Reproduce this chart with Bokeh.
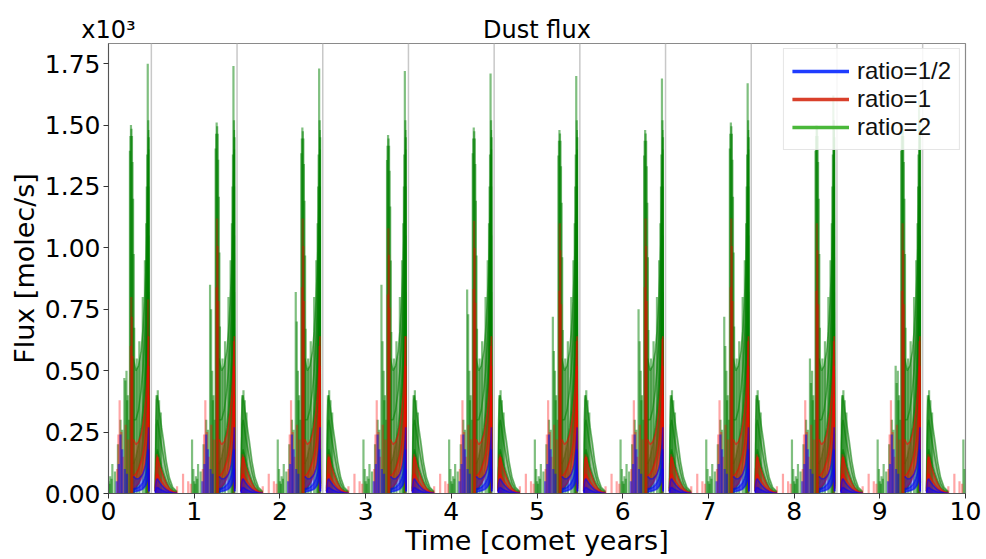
from bokeh.plotting import figure
from bokeh.models import (Range1d, FixedTicker, PrintfTickFormatter, Span, LinearAxis,
                          Legend, LegendItem)
from bokeh.embed import file_html
from bokeh.resources import INLINE

# ---------------- data (flux in units of 10^3 molec/s) ----------------
cycle_start = [0, 1, 2, 3, 4, 5, 6, 7, 8, 9]          # start of each comet year
perihelion = [0.5, 1.5, 2.5, 3.5, 4.5, 5.5, 6.5, 7.5, 8.5, 9.5]
x_ticks = [0, 1, 2, 3, 4, 5, 6, 7, 8, 9, 10]
y_ticks = [0.0, 0.25, 0.5, 0.75, 1.0, 1.25, 1.5, 1.75]

# per-cycle peak heights
green_pair_peak = [1.50, 1.51, 1.49, 1.46, 1.49, 1.48, 1.48, 1.51, 1.50, 1.50]
green_final_peak = [1.75, 1.74, 1.73, 1.72, 1.71, 1.70, 1.69, 1.67, 1.62, 1.60]
green_pre_peak = [0.47, 0.85, 0.82, 0.85, 0.83, 0.72, 0.75, 0.72, 0.55, 0.52]
green_pre_peak2 = [0.46, 0.75, 0.70, 0.62, 0.73, 0.58, 0.62, 0.60, 0.45, 0.45]
red_pair_peak = [0.80, 1.12, 1.12, 1.08, 1.11, 1.10, 1.12, 1.12, 1.10, 1.10]
red_final_peak = [0.79, 0.62, 0.60, 0.64, 0.60, 0.62, 0.63, 0.62, 0.62, 0.62]

# twin spike shape (phase, relative height)
pair_phase = [0.250, 0.256, 0.262, 0.268, 0.274, 0.280, 0.287, 0.294, 0.300]
pair_rel = [0.93, 0.97, 1.00, 0.99, 0.97, 0.90, 0.80, 0.65, 0.45]
red_pair_phase = [0.258, 0.266, 0.274, 0.282]
red_pair_rel = [0.75, 1.00, 0.90, 0.70]

# rising branch before perihelion (several runs)
rise_phase = [0.290, 0.320, 0.350, 0.380, 0.400, 0.420, 0.435, 0.445, 0.455, 0.462, 0.468, 0.472]
green_rise = [
    [0.55, 0.50, 0.52, 0.58, 0.66, 0.78, 0.90, 1.02, 1.18, 1.32, 1.48, 0.04],
    [0.30, 0.30, 0.34, 0.42, 0.50, 0.61, 0.72, 0.84, 1.00, 1.16, 1.40, 0.04],
    [0.12, 0.15, 0.20, 0.27, 0.34, 0.44, 0.55, 0.66, 0.80, 0.98, 1.25, 0.03],
    [0.04, 0.06, 0.10, 0.15, 0.21, 0.29, 0.38, 0.48, 0.62, 0.80, 1.05, 0.03],
    [0.01, 0.02, 0.04, 0.07, 0.11, 0.16, 0.23, 0.31, 0.42, 0.58, 0.82, 0.02],
]
red_rise = [
    [0.22, 0.20, 0.21, 0.24, 0.28, 0.33, 0.39, 0.44, 0.51, 0.57, 0.64, 0.02],
    [0.07, 0.08, 0.10, 0.13, 0.16, 0.20, 0.25, 0.30, 0.36, 0.43, 0.52, 0.02],
    [0.02, 0.03, 0.04, 0.06, 0.08, 0.11, 0.15, 0.19, 0.24, 0.31, 0.40, 0.01],
]
blue_rise = [
    [0.07, 0.06, 0.06, 0.07, 0.08, 0.10, 0.12, 0.15, 0.18, 0.22, 0.27, 0.01],
    [0.02, 0.02, 0.025, 0.035, 0.045, 0.06, 0.075, 0.09, 0.11, 0.14, 0.18, 0.01],
    [0.005, 0.008, 0.010, 0.014, 0.018, 0.025, 0.033, 0.042, 0.055, 0.075, 0.10, 0.005],
]

# decaying branch after perihelion
tail_phase = [0.545, 0.552, 0.560, 0.570, 0.585, 0.600, 0.620, 0.645, 0.675, 0.710, 0.750, 0.800]
green_tail = [
    [0.02, 0.30, 0.38, 0.40, 0.36, 0.32, 0.27, 0.21, 0.13, 0.065, 0.025, 0.008],
    [0.01, 0.20, 0.28, 0.30, 0.27, 0.23, 0.19, 0.14, 0.085, 0.04, 0.015, 0.005],
    [0.01, 0.10, 0.16, 0.18, 0.16, 0.14, 0.11, 0.08, 0.05, 0.025, 0.01, 0.003],
]
red_tail = [
    [0.01, 0.10, 0.14, 0.15, 0.13, 0.11, 0.09, 0.065, 0.04, 0.02, 0.008, 0.002],
    [0.005, 0.05, 0.07, 0.08, 0.07, 0.06, 0.048, 0.035, 0.022, 0.011, 0.005, 0.001],
]
blue_tail = [
    [0.005, 0.04, 0.055, 0.06, 0.052, 0.044, 0.035, 0.025, 0.015, 0.008, 0.003, 0.001],
    [0.002, 0.015, 0.022, 0.025, 0.022, 0.018, 0.014, 0.010, 0.006, 0.003, 0.001, 0.0],
]

# isolated outbursts (phase, height) repeated each comet year
green_spike_phase = [0.000, 0.012, 0.020, 0.035, 0.045, 0.075, 0.110, 0.140, 0.160,
                     0.210, 0.218, 0.225, 0.240, 0.330, 0.360, 0.400, 0.425,
                     0.560, 0.575, 0.590, 0.610, 0.975, 0.990]
green_spike_height = [0.05, 0.04, 0.07, 0.06, 0.12, 0.09, 0.20, 0.30, 0.26,
                      0.50, 0.38, 0.40, 0.30, 0.55, 0.62, 0.80, 0.95,
                      0.40, 0.42, 0.38, 0.33, 0.22, 0.10]
red_spike_phase = [0.100, 0.115, 0.130, 0.150, 0.170, 0.200, 0.230, 0.565, 0.580,
                   0.800, 0.870, 0.930, 0.960]
red_spike_height = [0.10, 0.24, 0.38, 0.25, 0.15, 0.28, 0.22, 0.16, 0.15,
                    0.03, 0.08, 0.05, 0.04]
blue_spike_phase = [0.095, 0.120, 0.140, 0.160, 0.190, 0.215]
blue_spike_height = [0.05, 0.12, 0.24, 0.18, 0.10, 0.08]

# header texts: the offset note above the y axis and the title
header_pos = [0, 5]
header_text = ["x10³", "Dust flux"]

GREEN, RED, BLUE = "#008000", "#ff0000", "#0000ff"
FONT = "DejaVu Sans"
FONT2 = "Liberation Sans"

p = figure(width=986, height=559, x_range=Range1d(0, 10), y_range=Range1d(0, 1.832),
           output_backend="svg", toolbar_location=None, title=None,
           min_border_left=108, min_border_right=21, min_border_top=43, min_border_bottom=66)
p.xgrid.visible = False
p.ygrid.visible = False
p.outline_line_color = "#8a8a8a"
p.outline_line_width = 1.2

for loc in perihelion:
    p.add_layout(Span(location=loc, dimension="height", line_color="#c8c8c8",
                      line_width=1.5, level="underlay"))


def draw_series(color, dense, rise, tail, sp_phase, sp_height, extra, core_alpha,
                fringe_alpha, spike_alpha):
    for lo_i, hi_i, alpha in ((len(rise) - 1, len(rise) // 2, core_alpha),
                              (len(rise) // 2, 0, fringe_alpha)):
        xs_f, ys_f = [], []
        for c in cycle_start:
            xx = [c + q for q in rise_phase]
            xs_f.append(xx + xx[::-1])
            ys_f.append(list(rise[lo_i]) + list(rise[hi_i])[::-1])
        p.patches(xs_f, ys_f, fill_color=dense, fill_alpha=alpha, line_color=None)
    xs_f, ys_f = [], []
    for c in cycle_start:
        xx = [c + q for q in tail_phase]
        xs_f.append(xx + xx[::-1])
        ys_f.append([0.0] * len(xx) + list(tail[-1])[::-1])
    p.patches(xs_f, ys_f, fill_color=dense, fill_alpha=core_alpha, line_color=None)
    xs_f, ys_f = [], []
    for c in cycle_start:
        xx = [c + q for q in tail_phase]
        xs_f.append(xx + xx[::-1])
        ys_f.append(list(tail[-1]) + list(tail[0])[::-1])
    p.patches(xs_f, ys_f, fill_color=dense, fill_alpha=fringe_alpha, line_color=None)
    xs_l, ys_l = [], []
    for c in cycle_start:
        for ph, runs in ((rise_phase, rise), (tail_phase, tail)):
            for r in runs:
                xs_l.append([c + q for q in ph])
                ys_l.append(list(r))
    p.multi_line(xs_l, ys_l, line_color=color, line_alpha=0.55, line_width=1.6)
    x0, y1 = [], []
    for c in cycle_start:
        for q, h in zip(sp_phase, sp_height):
            x0.append(c + q)
            y1.append(h)
    x0 += extra[0]
    y1 += extra[1]
    p.segment(x0=x0, y0=[0] * len(x0), x1=x0, y1=y1, line_color=color,
              line_alpha=spike_alpha, line_width=2.2)


g_extra_x, g_extra_h = [], []
r_extra_x, r_extra_h = [], []
for i, c in enumerate(cycle_start):
    for q, rel in zip(pair_phase, pair_rel):
        g_extra_x.append(c + q)
        g_extra_h.append(green_pair_peak[i] * rel)
    g_extra_x += [c + 0.185, c + 0.197, c + 0.440, c + 0.447, c + 0.452, c + 0.458, c + 0.464, c + 0.470]
    g_extra_h += [green_pre_peak[i], green_pre_peak2[i], 1.10, 1.25, 1.38, green_final_peak[i], 1.52, 1.45]
    for q, rel in zip(red_pair_phase, red_pair_rel):
        r_extra_x.append(c + q)
        r_extra_h.append(red_pair_peak[i] * rel)
    r_extra_x += [c + 0.462]
    r_extra_h += [red_final_peak[i]]

draw_series(GREEN, "#2a7a1e", green_rise, green_tail, green_spike_phase, green_spike_height,
            (g_extra_x, g_extra_h), 0.8, 0.45, 0.5)
draw_series(RED, "#ff1a1a", red_rise, red_tail, red_spike_phase, red_spike_height,
            (r_extra_x, r_extra_h), 0.55, 0.35, 0.35)
draw_series(BLUE, "#0a0aff", blue_rise, blue_tail, blue_spike_phase, blue_spike_height,
            ([], []), 0.7, 0.4, 0.5)

# axes
p.xaxis.ticker = FixedTicker(ticks=x_ticks, minor_ticks=[])
p.yaxis.ticker = FixedTicker(ticks=y_ticks, minor_ticks=[])
p.xaxis.formatter = PrintfTickFormatter(format="%d")
p.yaxis.formatter = PrintfTickFormatter(format="%.2f")
for ax in (p.xaxis, p.yaxis):
    ax.axis_line_color = "#555555"
    ax.major_tick_line_color = "#333333"
    ax.major_tick_out = 5
    ax.major_tick_in = 0
    ax.major_label_text_font = FONT
    ax.major_label_text_font_size = "25px"
    ax.major_label_text_color = "black"
    ax.major_label_standoff = 3
    ax.axis_label_text_font = FONT
    ax.axis_label_text_font_size = "27px"
    ax.axis_label_text_font_style = "normal"
    ax.axis_label_text_color = "black"
p.xaxis.axis_label = "Time [comet years]"
p.yaxis.axis_label = "Flux [molec/s]"
p.xaxis.axis_label_standoff = 2
p.yaxis.axis_label_standoff = 2

# header row (offset note + title) drawn as labels of a bare axis above the frame
head = LinearAxis(ticker=FixedTicker(ticks=header_pos, minor_ticks=[]),
                  major_label_overrides={k: t for k, t in zip(header_pos, header_text)},
                  axis_line_color=None, major_tick_line_color=None,
                  minor_tick_line_color=None, major_tick_out=0, major_tick_in=0,
                  major_label_standoff=0, major_label_text_font=FONT,
                  major_label_text_font_size="24px", major_label_text_color="black")
p.add_layout(head, "above")

lg_b = p.line(x=[-5, -4], y=[-1, -1], line_color="#1f3cff", line_width=3.5)
lg_r = p.line(x=[-5, -4], y=[-1, -1], line_color="#d9402b", line_width=3.5)
lg_g = p.line(x=[-5, -4], y=[-1, -1], line_color="#4ab83a", line_width=3.5)
legend = Legend(items=[LegendItem(label="ratio=1/2", renderers=[lg_b]),
                       LegendItem(label="ratio=1", renderers=[lg_r]),
                       LegendItem(label="ratio=2", renderers=[lg_g])],
                location="top_right", margin=5, padding=8, spacing=0,
                glyph_width=57, glyph_height=18, label_height=18, label_standoff=8,
                label_text_font=FONT2, label_text_font_size="24px",
                label_text_color="#111111",
                border_line_color="#cccccc", border_line_width=1.5,
                background_fill_alpha=0.85)
p.add_layout(legend)

open("out.html", "w").write(file_html(p, INLINE))
